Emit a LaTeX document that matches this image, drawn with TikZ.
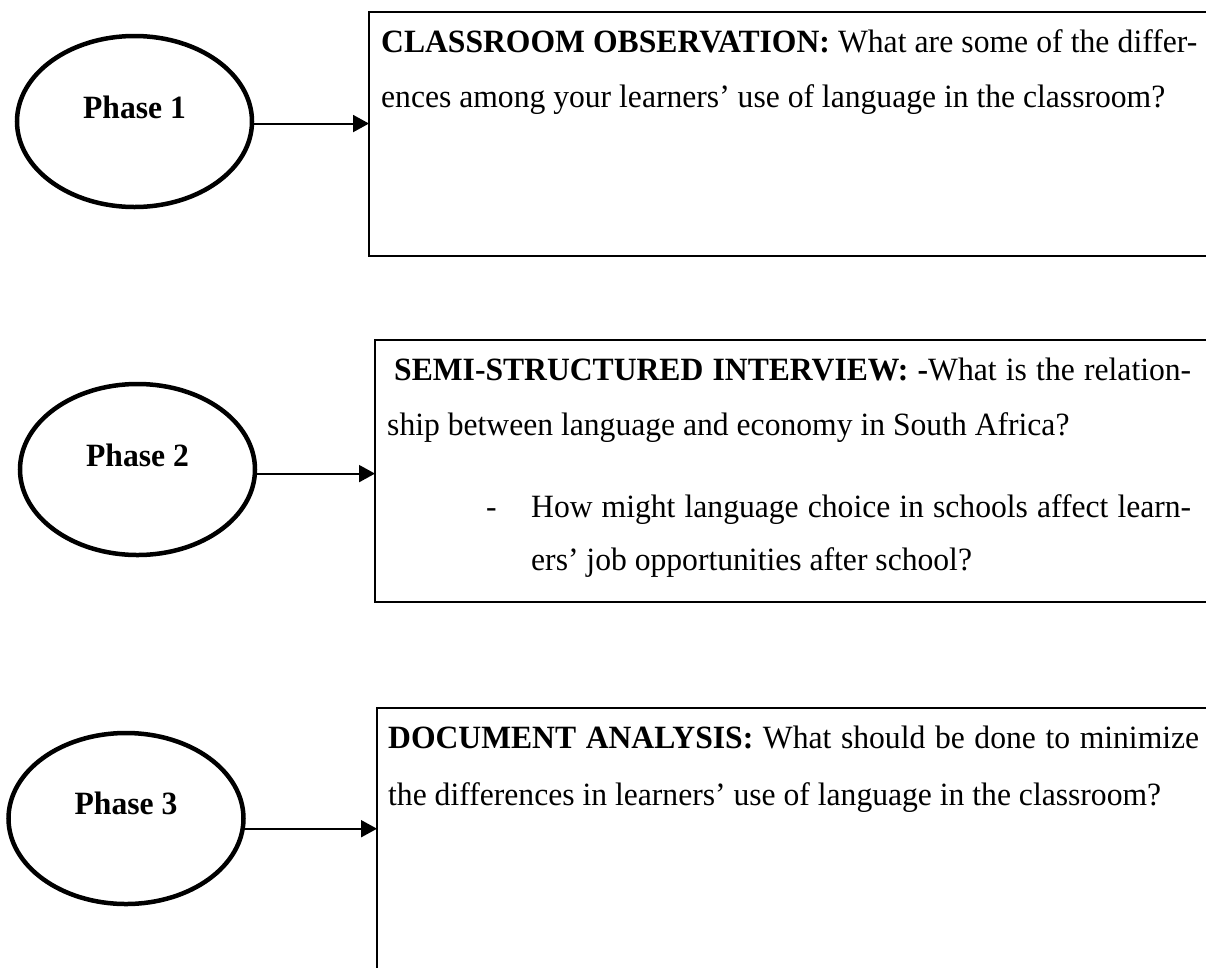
\documentclass[tikz,border=0pt]{standalone}
\usepackage{fontspec}
\setmainfont{Liberation Serif}[FakeStretch=0.973]
\usetikzlibrary{shapes.geometric,arrows.meta}
\tikzset{
  phase/.style={draw, ellipse, line width=4.5pt, inner sep=0pt, outer sep=0pt, minimum width=235pt, minimum height=171pt},
  plabel/.style={anchor=base, inner sep=0pt, font=\fontsize{32.5}{40}\selectfont\bfseries},
  qbox/.style={draw, rectangle, line width=1.8pt, inner sep=0pt, outer sep=0pt, anchor=north west},
  txt/.style={anchor=base west, inner sep=0pt, font=\fontsize{32.5}{40}\selectfont},
  arr/.style={line width=2pt, -{Triangle[length=16pt,width=17pt]}}
}
\begin{document}
\begin{tikzpicture}[x=1pt,y=-1pt]
\useasboundingbox (0,0) rectangle (1206,967);
\clip (0,0) rectangle (1206,967);
% boxes
\node[qbox, minimum width=870pt, minimum height=244pt] (b1) at (369,12) {};
\node[qbox, minimum width=870pt, minimum height=262pt] (b2) at (375,340) {};
\node[qbox, minimum width=870pt, minimum height=300pt] (b3) at (377,708) {};
% ellipses
\node[phase] (e1) at (134.5,121.5) {};
\node[phase] (e2) at (137.5,469.5) {};
\node[phase] (e3) at (126,818.5) {};
\node[plabel] (l1) at ([yshift=3.5pt]e1.center) {Phase 1};
\node[plabel] (l2) at ([yshift=3.5pt]e2.center) {Phase 2};
\node[plabel] (l3) at ([yshift=4pt]e3.center) {Phase 3};
% arrows
\draw[arr] (e1.-1) -- (e1.-1 -| b1.west);
\draw[arr] (e2.-2) -- (e2.-2 -| b2.west);
\draw[arr] (e3.-5) -- (e3.-5 -| b3.west);
% box 1 text
\node[txt] (t11) at (381,52) {\makebox[816pt][s]{\textbf{CLASSROOM OBSERVATION:} What are some of the differ-}};
\node[txt] (t12) at (381,107) {ences among your learners’ use of language in the classroom?};
% box 2 text
\node[txt] (t21) at (394,380) {\makebox[797pt][s]{\textbf{SEMI-STRUCTURED INTERVIEW: -}What is the relation-}};
\node[txt] (t22) at (387,435) {ship between language and economy in South Africa?};
\node[txt] (t2d) at (486,517) {-};
\node[txt] (t23) at (531,517) {\makebox[660pt][s]{How might language choice in schools affect learn-}};
\node[txt] (t24) at (531,570) {ers’ job opportunities after school?};
% box 3 text
\node[txt] (t31) at (388,748) {\makebox[811pt][s]{\textbf{DOCUMENT ANALYSIS:} What should be done to minimize}};
\node[txt] (t32) at (388,805) {the differences in learners’ use of language in the classroom?};
\end{tikzpicture}
\end{document}
